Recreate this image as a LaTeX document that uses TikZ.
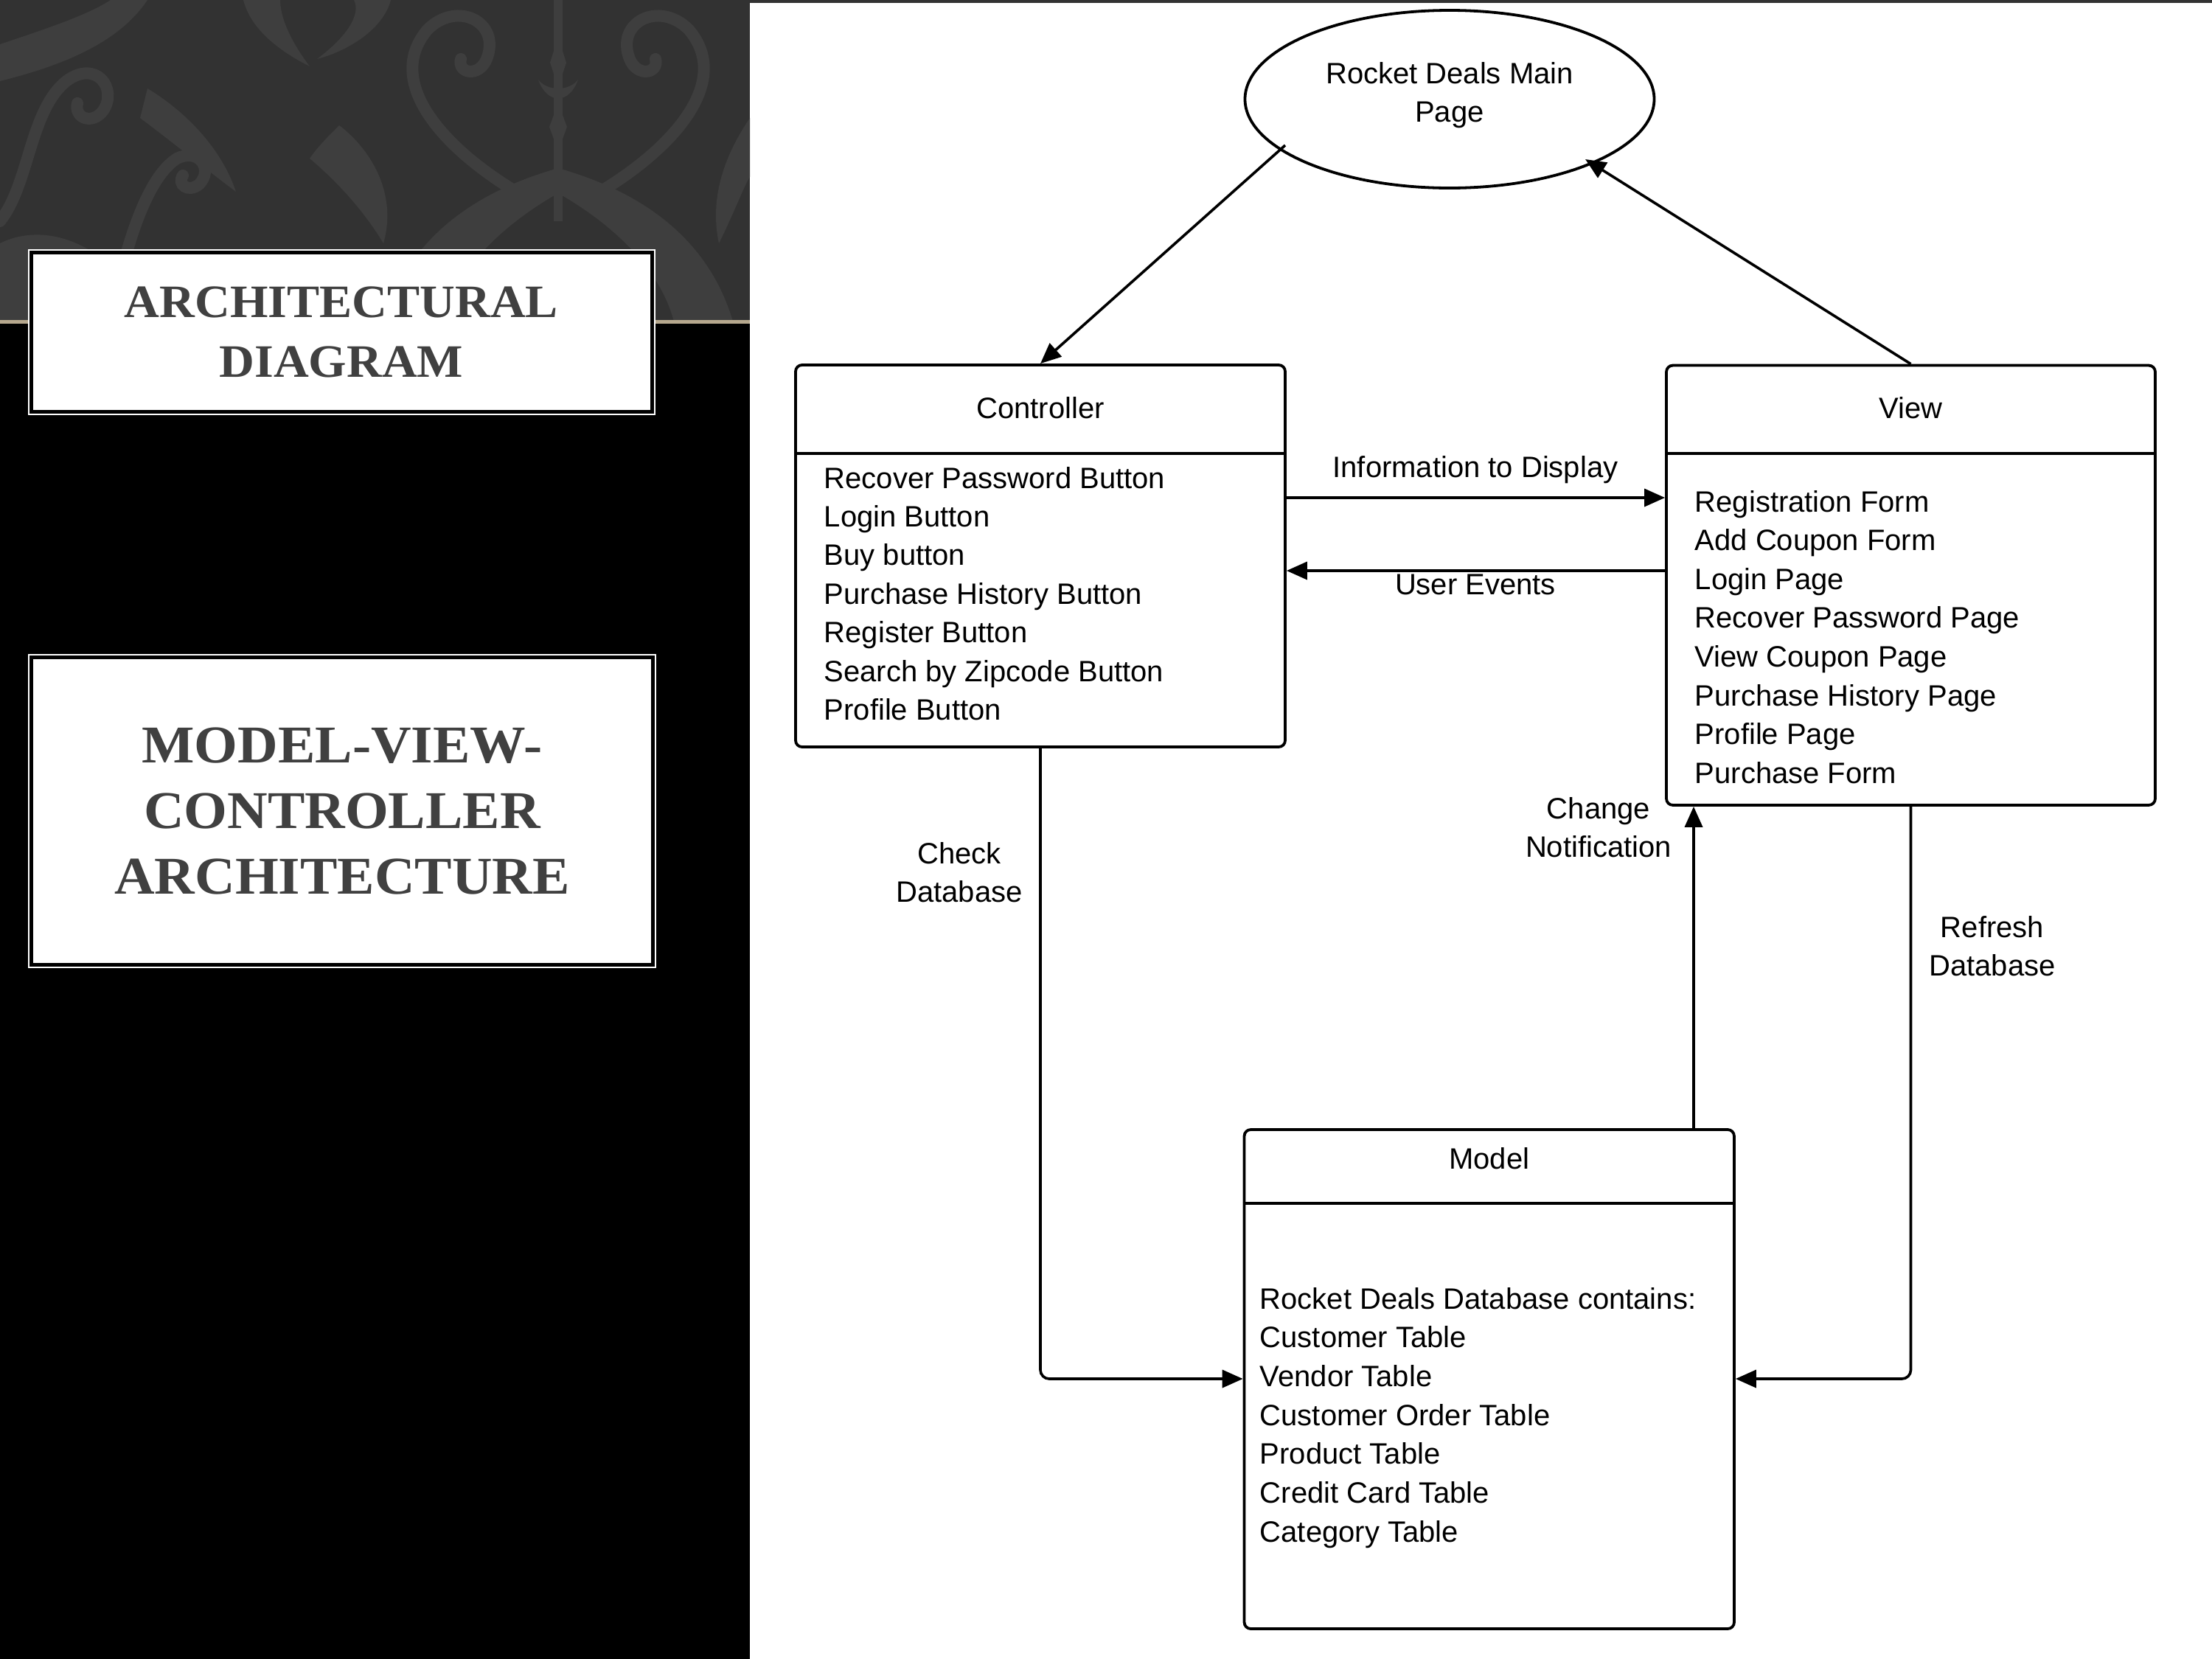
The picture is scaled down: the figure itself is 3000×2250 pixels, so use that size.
\documentclass[tikz,border=0pt]{standalone}
\usepackage{fontspec}
\setmainfont{Liberation Sans}
\newfontfamily\titlefont[FakeStretch=1.05]{Liberation Serif}
\usetikzlibrary{arrows.meta,shapes.geometric,calc}
\definecolor{bgdark}{RGB}{50,50,50}
\definecolor{damaskc}{RGB}{62,62,62}
\definecolor{tanline}{RGB}{182,168,142}
\definecolor{titlegray}{RGB}{64,64,64}
\begin{document}
\begin{tikzpicture}[x=0.25pt,y=-0.25pt,
  box/.style={draw=black,line width=0.95pt,rounded corners=2.2pt,fill=white,inner sep=0pt},
  txt/.style={font=\fontsize{10}{12}\selectfont,inner sep=0pt,text=black},
  arr/.style={line width=0.9pt,-{Triangle[length=7pt,width=6pt]}},
  tbox/.style={fill=white,draw=none,inner sep=0pt},
  ttl/.style={font=\titlefont\bfseries,text=titlegray,inner sep=0pt,anchor=base},
  dm/.style={draw=damaskc,line width=4pt,line cap=round}]
\useasboundingbox (0,0) rectangle (3000,2250);
% backgrounds
\fill[black] (0,0) rectangle (1017,2250);
\fill[bgdark] (0,0) rectangle (3000,436);
\fill[white] (1017,4) rectangle (3000,2250);
% damask pattern
\begin{scope}
\clip (0,0) rectangle (1017,436);
\draw[damaskc,line width=3pt] (757,0) -- (757,300);
\fill[damaskc] (757,50) -- (768,85) -- (757,118) -- (746,85) -- cycle;
\fill[damaskc] (757,140) -- (769,172) -- (757,205) -- (745,172) -- cycle;
\fill[damaskc] (730,108) .. controls (742,142) and (772,142) .. (784,108) .. controls (772,124) and (742,124) .. (730,108);
\draw[dm] (700,260) .. controls (600,200) and (520,110) .. (580,40) .. controls (620,0) and (680,30) .. (660,80) .. controls (650,105) and (620,100) .. (625,80);
\draw[dm] (814,260) .. controls (914,200) and (994,110) .. (934,40) .. controls (894,0) and (834,30) .. (854,80) .. controls (864,105) and (894,100) .. (889,80);
\fill[damaskc] (757,228) .. controls (680,250) and (560,300) .. (520,436) -- (600,436) .. controls (620,360) and (690,300) .. (757,262) -- cycle;
\fill[damaskc] (757,228) .. controls (834,250) and (954,300) .. (994,436) -- (914,436) .. controls (894,360) and (824,300) .. (757,262) -- cycle;
\fill[damaskc] (460,170) .. controls (500,200) and (540,260) .. (520,330) .. controls (490,280) and (450,240) .. (420,215) .. controls (430,200) and (445,185) .. (460,170) -- cycle;
\fill[damaskc] (1017,160) .. controls (990,200) and (960,260) .. (975,330) .. controls (995,290) and (1010,250) .. (1017,240) -- cycle;
\fill[damaskc] (530,0) .. controls (520,40) and (470,70) .. (430,80) .. controls (470,50) and (490,20) .. (480,0) -- cycle;
\fill[damaskc] (330,0) .. controls (340,40) and (380,70) .. (420,90) .. controls (390,50) and (380,20) .. (380,0) -- cycle;
\draw[dm] (0,300) .. controls (40,250) and (40,150) .. (90,110) .. controls (130,80) and (160,120) .. (140,150) .. controls (125,170) and (100,160) .. (105,140);
\fill[damaskc] (0,60) .. controls (60,40) and (120,20) .. (150,0) -- (200,0) .. controls (160,60) and (80,90) .. (0,110) -- cycle;
\fill[damaskc] (0,330) .. controls (60,300) and (140,330) .. (180,400) .. controls (200,420) and (220,436) .. (230,436) -- (0,436) -- cycle;
\draw[dm] (150,436) .. controls (170,330) and (200,240) .. (240,215) .. controls (270,200) and (290,230) .. (270,250) .. controls (255,262) and (240,250) .. (248,238);
\fill[damaskc] (200,120) .. controls (250,150) and (300,200) .. (320,260) .. controls (280,230) and (230,190) .. (190,160) -- cycle;
\end{scope}
\fill[tanline] (0,434) rectangle (1017,439);
% title boxes
\node[tbox,minimum width=212.75pt,minimum height=56.25pt] (tb1) at (463.5,450.5) {};
\draw[black,line width=1.3pt] ($(tb1.north west)+(5.5,5.5)$) rectangle ($(tb1.south east)+(-5.5,-5.5)$);
\node[ttl,font=\titlefont\bfseries\fontsize{15.75}{18}\selectfont] (t1a) at (463,430) {ARCHITECTURAL};
\node[ttl,font=\titlefont\bfseries\fontsize{15.75}{18}\selectfont] (t1b) at (463,511) {DIAGRAM};
\node[tbox,minimum width=213pt,minimum height=106.5pt] (tb2) at (464,1100) {};
\draw[black,line width=1.3pt] ($(tb2.north west)+(5.5,5.5)$) rectangle ($(tb2.south east)+(-5.5,-5.5)$);
\node[ttl,font=\titlefont\bfseries\fontsize{18}{20}\selectfont] (t2a) at (464,1034) {MODEL-VIEW-};
\node[ttl,font=\titlefont\bfseries\fontsize{18}{20}\selectfont] (t2b) at (464,1123) {CONTROLLER};
\node[ttl,font=\titlefont\bfseries\fontsize{18}{20}\selectfont] (t2c) at (464,1212) {ARCHITECTURE};
% main page ellipse
\node[draw=black,fill=white,ellipse,line width=0.95pt,minimum width=138.75pt,minimum height=60.25pt,inner sep=0pt] (main) at (1966,134.5) {};
\node[txt,anchor=base] (mainA) at (1966,113) {Rocket Deals Main};
\node[txt,anchor=base] (mainB) at (1966,165) {Page};
% controller
\node[box,minimum width=166pt,minimum height=129.5pt] (ctrl) at (1411,754) {};
\coordinate (ydivc) at (0,615);
\draw[line width=0.95pt] (ctrl.west |- ydivc) -- (ctrl.east |- ydivc);
\node[txt,anchor=base] (ctrlT) at (1411,567) {Controller};
\foreach \t [count=\i from 0] in {Recover Password Button,Login Button,Buy button,Purchase History Button,Register Button,Search by Zipcode Button,Profile Button}
  \node[txt,anchor=base west] (ci\i) at (1117,{662+52.4*\i}) {\t};
% view
\node[box,minimum width=165.75pt,minimum height=149.1pt] (view) at (2591.5,793.75) {};
\draw[line width=0.95pt] (view.west |- ydivc) -- (view.east |- ydivc);
\node[txt,anchor=base] (viewT) at (2591.5,567) {View};
\foreach \t [count=\i from 0] in {Registration Form,Add Coupon Form,Login Page,Recover Password Page,View Coupon Page,Purchase History Page,Profile Page,Purchase Form}
  \node[txt,anchor=base west] (vi\i) at (2298,{694+52.6*\i}) {\t};
% model
\node[box,minimum width=166.1pt,minimum height=169.25pt] (model) at (2019.75,1870.5) {};
\coordinate (ydivm) at (0,1632);
\draw[line width=0.95pt] (model.west |- ydivm) -- (model.east |- ydivm);
\node[txt,anchor=base] (modelT) at (2019.75,1585) {Model};
\foreach \t [count=\i from 0] in {Rocket Deals Database contains:,Customer Table,Vendor Table,Customer Order Table,Product Table,Credit Card Table,Category Table}
  \node[txt,anchor=base west] (mi\i) at (1708,{1775+52.7*\i}) {\t};
% connectors
\coordinate (mtail) at (1743,197);
\coordinate (mtip) at (2150,216);
\draw[arr] (mtail) -- (ctrl.north);
\draw[arr] (view.north) -- (mtip);
\coordinate (yinfo) at (0,675);
\coordinate (yuser) at (0,774);
\coordinate (ydb) at (0,1870);
\coordinate (xchg) at (2297,0);
\draw[arr] (ctrl.east |- yinfo) -- (view.west |- yinfo);
\draw[arr] (view.west |- yuser) -- (ctrl.east |- yuser);
\draw[arr,rounded corners=3pt] (ctrl.south) |- (model.west |- ydb);
\draw[arr,rounded corners=3pt] (view.south) |- (model.east |- ydb);
\draw[arr] (model.north -| xchg) -- (view.south -| xchg);
% labels
\node[txt,anchor=base] (lInfo) at (2001,647) {Information to Display};
\node[txt,anchor=base] (lUser) at (2001,806) {User Events};
\node[txt,anchor=base] (lCheckA) at (1301,1171) {Check};
\node[txt,anchor=base] (lCheckB) at (1301,1223) {Database};
\node[txt,anchor=base] (lChgA) at (2168,1110) {Change};
\node[txt,anchor=base] (lChgB) at (2168,1162) {Notification};
\node[txt,anchor=base] (lRefA) at (2702,1271) {Refresh};
\node[txt,anchor=base] (lRefB) at (2702,1323) {Database};
\end{tikzpicture}
\end{document}
